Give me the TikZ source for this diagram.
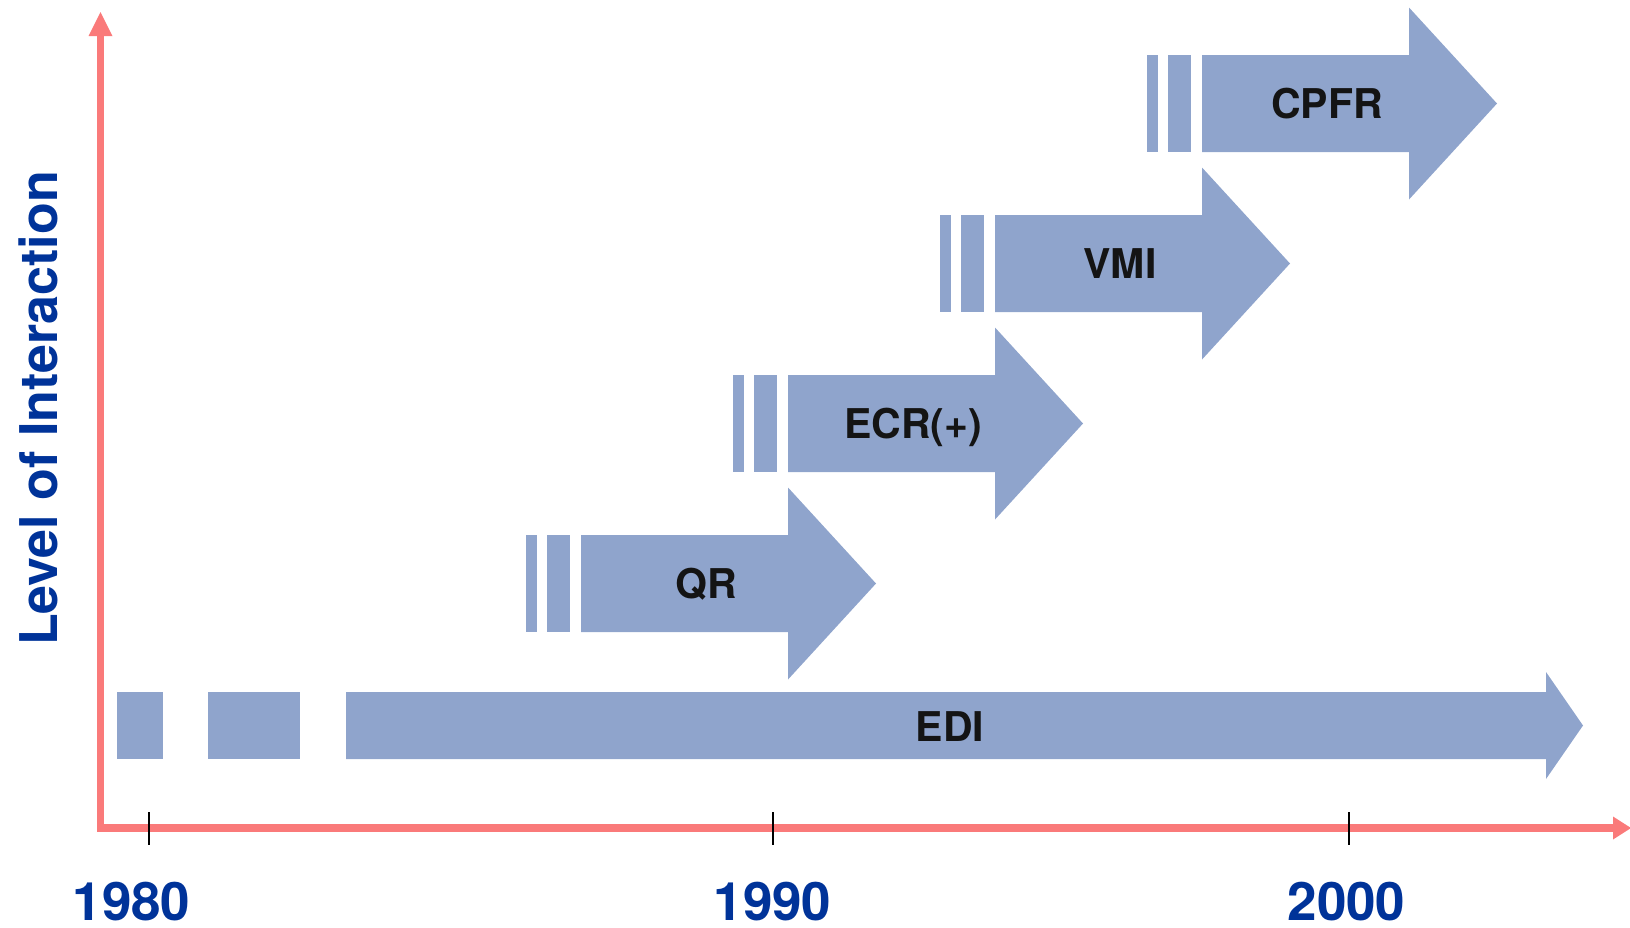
\documentclass[tikz,border=0pt]{standalone}
\usepackage{fontspec}
\setmainfont{TeX Gyre Heros}
\definecolor{arr}{RGB}{143,164,204}
\definecolor{axiscol}{RGB}{250,122,122}
\definecolor{yr}{RGB}{0,51,153}
\definecolor{lab}{RGB}{20,20,20}
\begin{document}
\begin{tikzpicture}[x=1pt,y=-1pt,
  blk/.style={fill=arr,draw=none},
  arrlabel/.style={anchor=base,inner sep=0pt,font=\fontsize{41}{41}\selectfont\bfseries,text=lab},
  yearlabel/.style={anchor=base,inner sep=0pt,font=\fontsize{53}{53}\selectfont\bfseries,text=yr},
  ticks/.style={draw=black,line width=2pt},
  axisline/.style={draw=axiscol,line width=7.5pt,line join=miter},
  axishead/.style={fill=axiscol,draw=none}]
\useasboundingbox (0,0) rectangle (1630,927);

% axes
\coordinate (origin) at (100.5,828);
\coordinate (ytop) at (100.5,36);
\coordinate (xend) at (1613,828);
\draw[axisline] (ytop) -- (origin) -- (xend);
\fill[axishead] (88.5,36) -- (112.5,36) -- (100.5,12) -- cycle;
\fill[axishead] (1613,816.5) -- (1613,839.5) -- (1631,828) -- cycle;

% ticks
\foreach \x in {148.7,772.7,1348.5}{
  \draw[ticks] (\x,812) -- (\x,845);
}

% year labels
\node[yearlabel] (y1980) at (131.5,920) {1980};
\node[yearlabel] (y1990) at (772.5,920) {1990};
\node[yearlabel] (y2000) at (1346.5,920) {2000};

% y label
\node[anchor=base,inner sep=0pt,rotate=90,font=\fontsize{52}{52}\selectfont\bfseries,text=yr] (ylab) at (57,408.5) {Level of Interaction};

% EDI
\fill[blk] (117,692) rectangle (163,759);
\fill[blk] (208,692) rectangle (300,759);
\fill[blk] (346,692) -- (1546,692) -- (1546,672) -- (1583,725.5) -- (1546,779) -- (1546,759) -- (346,759) -- cycle;
\node[arrlabel] (edi) at (950,741) {EDI};

% stepped arrows
\foreach \i/\lab in {0/QR,1/{ECR(+)},2/VMI,3/CPFR}{
  \pgfmathsetmacro{\s}{581+207*\i}
  \pgfmathsetmacro{\c}{583.5-160*\i}
  \fill[blk] (\s-55,\c-48.5) rectangle (\s-44,\c+48.5);
  \fill[blk] (\s-34,\c-48.5) rectangle (\s-11,\c+48.5);
  \fill[blk] (\s,\c-48.5) -- (\s+207,\c-48.5) -- (\s+207,\c-96) -- (\s+295,\c) -- (\s+207,\c+96) -- (\s+207,\c+48.5) -- (\s,\c+48.5) -- cycle;
  \node[arrlabel] (lab\i) at (\s+125,\c+15) {\lab};
}
\end{tikzpicture}
\end{document}
